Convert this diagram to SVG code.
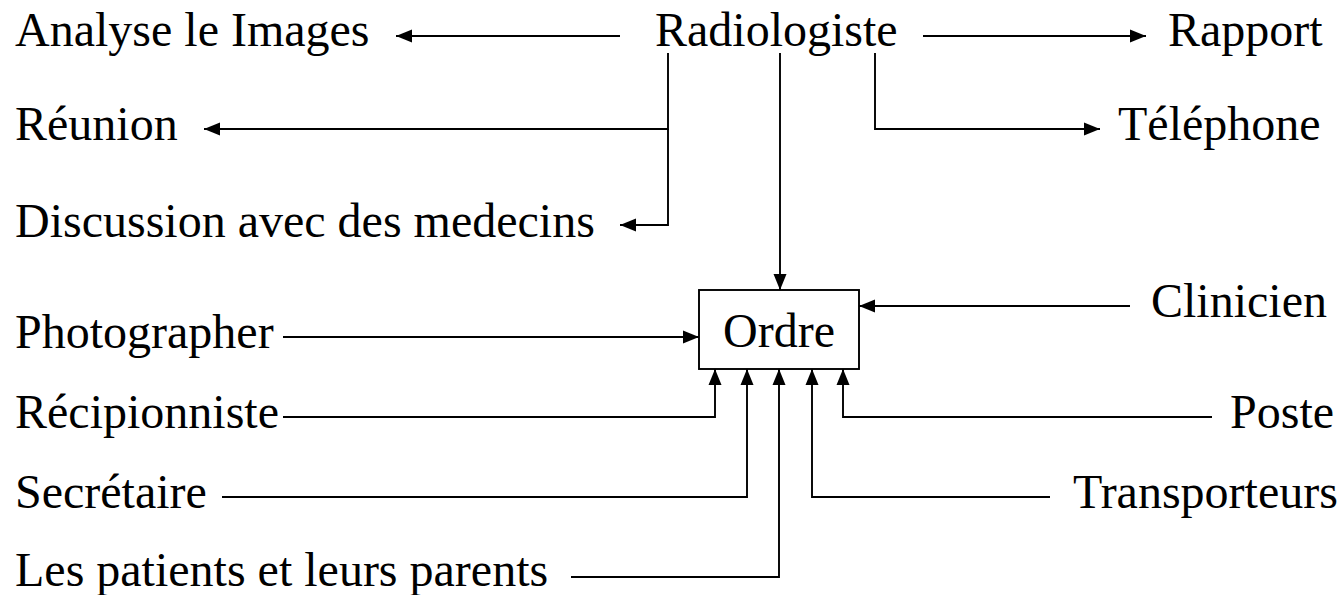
<svg xmlns="http://www.w3.org/2000/svg" width="1342" height="595" viewBox="0 0 1342 595">
  <style>
    text { font-family: 'Liberation Serif', 'Times New Roman', Times, 'DejaVu Serif', serif; font-size: 48px; fill: #000; }
    .conn { fill: none; stroke: #000; stroke-width: 1.9; }
    .box { fill: #fff; stroke: #000; stroke-width: 1.9; }
  </style>
  <defs>
    <marker id="arrow" markerUnits="userSpaceOnUse" markerWidth="17" markerHeight="14" refX="16" refY="7" orient="auto">
      <path d="M0,0.5 L16,7 L0,13.5 z" fill="#000"/>
    </marker>
  </defs>

  <rect width="1342" height="595" fill="#fff"/>

  <!-- connectors -->
  <g id="connectors" class="conn" marker-end="url(#arrow)">
    <!-- from Radiologiste -->
    <path d="M620,36 H396"/>
    <path d="M923,36 H1146"/>
    <path d="M668,53 V129 H204"/>
    <path d="M668,129 V225 H620"/>
    <path d="M875,53 V129 H1100"/>
    <path d="M780,53 V290"/>
    <!-- into Ordre -->
    <path d="M1130,306 H859"/>
    <path d="M283,337 H699"/>
    <path d="M283,417 H715 V369"/>
    <path d="M222,497 H747 V369"/>
    <path d="M571,577 H779 V369"/>
    <path d="M1050,497 H812 V369"/>
    <path d="M1212,417 H843 V369"/>
  </g>

  <g font-family="Liberation Serif, serif">
    <g id="radiologiste"><text x="655" y="46">Radiologiste</text></g>
    <g id="analyse"><text x="15" y="46">Analyse le Images</text></g>
    <g id="rapport"><text x="1168" y="46">Rapport</text></g>
    <g id="reunion"><text x="15" y="140">Réunion</text></g>
    <g id="telephone"><text x="1118" y="140">Téléphone</text></g>
    <g id="discussion"><text x="15" y="237">Discussion avec des medecins</text></g>

    <g id="ordre">
      <rect class="box" x="699" y="290" width="160" height="79"/>
      <text x="779" y="347" text-anchor="middle">Ordre</text>
    </g>
    <g id="clinicien"><text x="1151" y="317">Clinicien</text></g>
    <g id="photographer"><text x="15" y="348">Photographer</text></g>
    <g id="recipionniste"><text x="15" y="428">Récipionniste</text></g>
    <g id="poste"><text x="1230" y="428">Poste</text></g>
    <g id="secretaire"><text x="15" y="508">Secrétaire</text></g>
    <g id="transporteurs"><text x="1073" y="508">Transporteurs</text></g>
    <g id="patients"><text x="15" y="586">Les patients et leurs parents</text></g>
  </g>
</svg>
